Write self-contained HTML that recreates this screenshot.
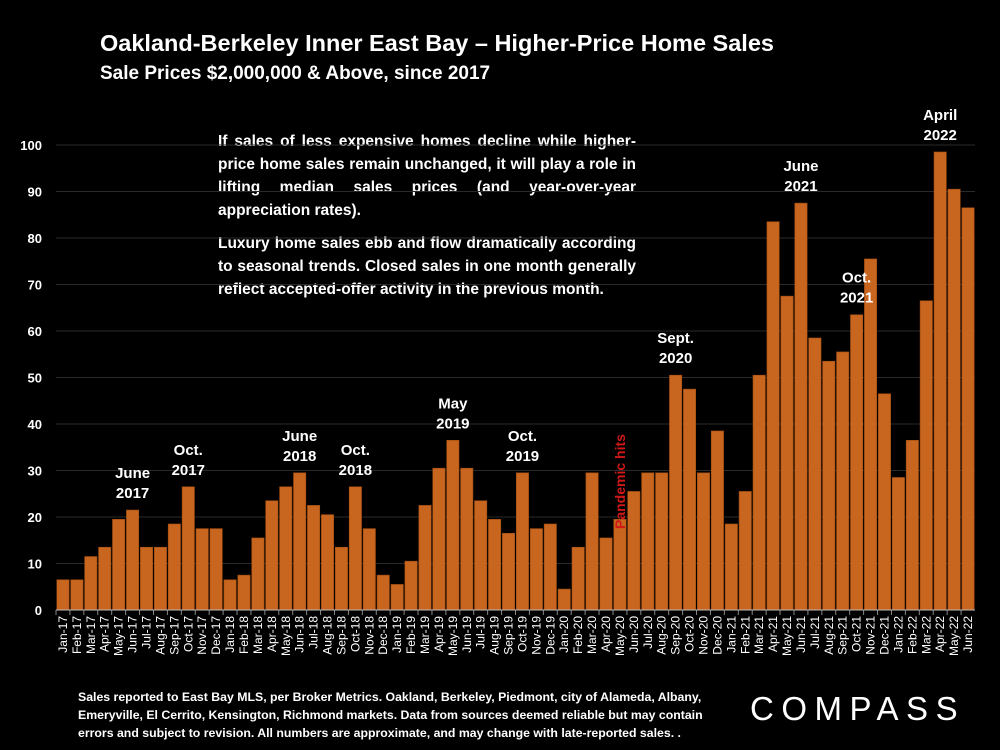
<!DOCTYPE html>
<html><head><meta charset="utf-8"><style>
body{margin:0;background:#000;width:1000px;height:750px;overflow:hidden;font-family:"Liberation Sans",sans-serif;color:#fff}
.t{position:absolute;font-weight:bold}
</style></head><body>
<div class="t" style="left:100px;top:30px;font-size:23.5px">Oakland-Berkeley Inner East Bay – Higher-Price Home Sales</div>
<div class="t" style="left:100px;top:63px;font-size:19px">Sale Prices $2,000,000 &amp; Above, since 2017</div>
<div class="t" style="left:218px;top:130px;width:418px;font-size:15.5px;line-height:23px;text-align:justify">If sales of less expensive homes decline while higher-price home sales remain unchanged, it will play a role in lifting median sales prices (and year-over-year appreciation rates).<div style="height:10px"></div>Luxury home sales ebb and flow dramatically according to seasonal trends. Closed sales in one month generally reflect accepted-offer activity in the previous month.</div>
<div class="t" style="left:78px;top:688px;width:640px;font-size:12.3px;line-height:18px">Sales reported to East Bay MLS, per Broker Metrics. Oakland, Berkeley, Piedmont, city of Alameda, Albany, Emeryville, El Cerrito, Kensington, Richmond markets. Data from sources deemed reliable but may contain errors and subject to revision. All numbers are approximate, and may change with late-reported sales. .</div>
<div style="position:absolute;left:750px;top:690px;font-size:33px;letter-spacing:7.5px;font-weight:normal">COMPASS</div>
<svg id="c" width="1000" height="750" style="position:absolute;left:0;top:0"></svg>
<script>
const months=["Jan","Feb","Mar","Apr","May","Jun","Jul","Aug","Sep","Oct","Nov","Dec"];
const years=["17","18","19","20","21","22"];
const values=[6.5,6.5,11.5,13.5,19.5,21.5,13.5,13.5,18.5,26.5,17.5,17.5,
6.5,7.5,15.5,23.5,26.5,29.5,22.5,20.5,13.5,26.5,17.5,7.5,
5.5,10.5,22.5,30.5,36.5,30.5,23.5,19.5,16.5,29.5,17.5,18.5,
4.5,13.5,29.5,15.5,19.5,25.5,29.5,29.5,50.5,47.5,29.5,38.5,
18.5,25.5,50.5,83.5,67.5,87.5,58.5,53.5,55.5,63.5,75.5,46.5,
28.5,36.5,66.5,98.5,90.5,86.5];
const yTicks=[0,10,20,30,40,50,60,70,80,90,100];
const callouts=[[5,"June","2017"],[9,"Oct.","2017"],[17,"June","2018"],[21,"Oct.","2018"],[28,"May","2019"],[33,"Oct.","2019"],[44,"Sept.","2020"],[53,"June","2021"],[57,"Oct.","2021"],[63,"April","2022"]];
const cats=[];years.forEach(y=>months.forEach(m=>cats.push(m+"-"+y)));cats.length=values.length;
const NS="http://www.w3.org/2000/svg",svg=document.getElementById('c');
const x0=56,x1=975,y0=610,y100=145;
const step=(x1-x0)/cats.length;
const X=i=>x0+i*step, Y=v=>y0-(v/100)*(y0-y100);
function mk(t,a,p){const e=document.createElementNS(NS,t);for(const k in a)e.setAttribute(k,a[k]);(p||svg).appendChild(e);return e;}
yTicks.forEach(v=>{
 const g=mk('line',{x1:x0,x2:x1,y1:Y(v),y2:Y(v),stroke:'#2a2a2a','stroke-width':1});
 
 
 const t=mk('text',{x:42,y:Y(v)+5,'text-anchor':'end','font-size':13,'font-weight':'bold',fill:'#fff'});t.textContent=v;
 
 
});
values.forEach((v,i)=>{
 const r=mk('rect',{x:X(i)+0.8,y:Y(v),width:step-1.6,height:y0-Y(v),fill:'#c8651e',stroke:'#a04d12','stroke-width':0.6});
 
 
 const cx=X(i)+step/2+4;
 const t=mk('text',{x:0,y:0,transform:`translate(${cx},${y0+6}) rotate(-90)`,'text-anchor':'end','font-size':12,fill:'#fff'});t.textContent=cats[i];
 
 
 mk('line',{x1:X(i),x2:X(i),y1:y0,y2:y0+5,stroke:'#888'});
});
const ax=mk('line',{x1:x0,x2:x1,y1:y0,y2:y0,stroke:'#bbb','stroke-width':1});


callouts.forEach(([i,a,b])=>{
 const cx=X(i)+step/2,ty=Y(values[i])-32;
 const t1=mk('text',{x:cx,y:ty,'text-anchor':'middle','font-size':15,'font-weight':'bold',fill:'#fff'});t1.textContent=a;
 
 
 const t2=mk('text',{x:cx,y:ty+20,'text-anchor':'middle','font-size':15,'font-weight':'bold',fill:'#fff'});t2.textContent=b;
 
 
});
const p=mk('text',{transform:`translate(${X(40)+step/2+5},529) rotate(-90)`,'font-size':14,'font-weight':'bold',fill:'#d01818'});p.textContent='Pandemic hits';


</script>
</body></html>
